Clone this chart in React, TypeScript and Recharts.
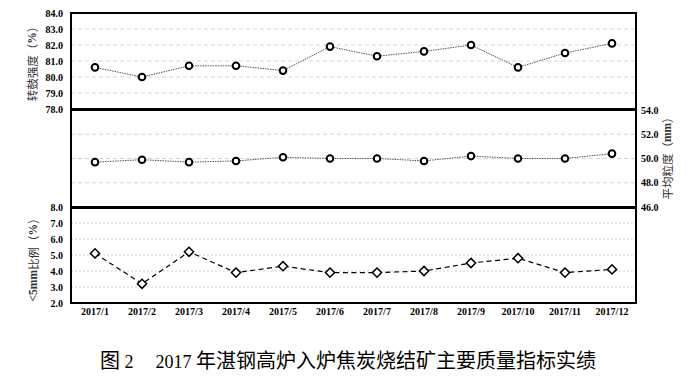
import { LineChart, Line, XAxis, YAxis, CartesianGrid } from 'recharts';

const months = ['2017/1', '2017/2', '2017/3', '2017/4', '2017/5', '2017/6', '2017/7', '2017/8', '2017/9', '2017/10', '2017/11', '2017/12'];
const drumStrength = [80.6, 80.0, 80.7, 80.7, 80.4, 81.9, 81.3, 81.6, 82.0, 80.6, 81.5, 82.1];
const avgSize = [49.7, 49.9, 49.7, 49.8, 50.1, 50.0, 50.0, 49.8, 50.2, 50.0, 50.0, 50.4];
const below5mm = [5.1, 3.2, 5.2, 3.9, 4.3, 3.9, 3.9, 4.0, 4.5, 4.8, 3.9, 4.1];

const drumTicks = [78, 79, 80, 81, 82, 83, 84];
const sizeTicks = [46, 48, 50, 52, 54];
const fineTicks = [2, 3, 4, 5, 6, 7, 8];

const data = months.map((m, i) => ({ month: m, drum: drumStrength[i], size: avgSize[i], fine: below5mm[i] }));

const W = 687;
const H = 379;
const tickStyle = { fontFamily: '"Liberation Serif", serif', fontWeight: 700, fontSize: 10, fill: '#000' };
const xPad = { left: 24, right: 24 };
const gridStroke = '#d4d4d4';
const cjk = '"Noto Sans CJK SC", sans-serif';
const latin = '"Liberation Serif", serif';

const CircleDot = (p: any) => (
  <circle cx={p.cx} cy={p.cy} r={3.3} fill="#fff" stroke="#000" strokeWidth={2} />
);

const DiamondDot = (p: any) => {
  const s = 4.6;
  return (
    <path
      d={`M${p.cx},${p.cy - s}L${p.cx + s},${p.cy}L${p.cx},${p.cy + s}L${p.cx - s},${p.cy}Z`}
      fill="#fff" stroke="#000" strokeWidth={1.5}
    />
  );
};

// rotated axis title, latin part in bold serif
function axisTitle(parts: { t: string; latin?: boolean }[], offsetX: number, dy = 0) {
  return (props: any) => {
    const vb = props.viewBox || {};
    const x = vb.x + offsetX;
    const y = vb.y + vb.height / 2 + dy;
    return (
      <text x={x} y={y} transform={`rotate(-90 ${x} ${y})`} textAnchor="middle" dominantBaseline="central"
        fontSize={11.5} fill="#333" fontFamily={cjk}>
        {parts.map((p, i) => (
          <tspan key={i} fontFamily={p.latin ? latin : undefined} fontWeight={p.latin ? 700 : 400}>{p.t}</tspan>
        ))}
      </text>
    );
  };
}

export default function App() {
  const fmt = (v: number) => v.toFixed(1);
  return (
    <div style={{ position: 'absolute', left: 0, top: 0, width: W, height: H, background: '#fff' }}>
      {/* 转鼓强度 */}
      <div style={{ position: 'absolute', left: 0, top: 0 }}>
        <LineChart width={W} height={H} data={data} margin={{ top: 13, right: 51, bottom: 270, left: 0 }}>
          <CartesianGrid vertical={false} stroke={gridStroke} strokeDasharray="4 3" />
          <XAxis dataKey="month" hide padding={xPad} />
          <YAxis width={71} domain={[78, 84]} ticks={drumTicks} interval={0} tickFormatter={fmt} axisLine={false} tickLine={false}
            tickSize={0} tickMargin={8} tick={tickStyle}
            label={{ content: axisTitle([{ t: '转鼓强度（' }, { t: '%', latin: true }, { t: '）' }], 32, 0) }} />
          <Line dataKey="drum" stroke="#555" strokeWidth={1} strokeDasharray="1.5 1" dot={<CircleDot />} isAnimationActive={false} />
        </LineChart>
      </div>
      {/* 平均粒度 */}
      <div style={{ position: 'absolute', left: 0, top: 0 }}>
        <LineChart width={W} height={H} data={data} margin={{ top: 110, right: 0, bottom: 172, left: 71 }}>
          <CartesianGrid vertical={false} stroke={gridStroke} strokeDasharray="4 3" />
          <XAxis dataKey="month" hide padding={xPad} />
          <YAxis orientation="right" width={51} domain={[46, 54]} ticks={sizeTicks} interval={0} tickFormatter={fmt} axisLine={false}
            tickLine={false} tickSize={0} tickMargin={5} tick={tickStyle}
            label={{ content: axisTitle([{ t: '平均粒度（' }, { t: 'mm', latin: true }, { t: '）' }], 31, -3) }} />
          <Line dataKey="size" stroke="#555" strokeWidth={1} strokeDasharray="1.5 1" dot={<CircleDot />} isAnimationActive={false} />
        </LineChart>
      </div>
      {/* <5mm比例 */}
      <div style={{ position: 'absolute', left: 0, top: 0 }}>
        <LineChart width={W} height={H} data={data} margin={{ top: 207, right: 51, bottom: 46, left: 0 }}>
          <CartesianGrid vertical={false} stroke={gridStroke} strokeDasharray="2 2" />
          <XAxis dataKey="month" height={30} padding={xPad} axisLine={false} tickLine={false} tickSize={0} tickMargin={5}
            tick={tickStyle} interval={0} />
          <YAxis width={71} domain={[2, 8]} ticks={fineTicks} interval={0} tickFormatter={fmt} axisLine={false} tickLine={false}
            tickSize={0} tickMargin={8} tick={tickStyle}
            label={{ content: axisTitle([{ t: '<5mm', latin: true }, { t: '比例（' }, { t: '%', latin: true }, { t: '）' }], 33, 2) }} />
          <Line dataKey="fine" stroke="#000" strokeWidth={1.2} strokeDasharray="5 3.5" dot={<DiamondDot />} isAnimationActive={false} />
        </LineChart>
      </div>
      {/* frame and panel separators */}
      <div style={{ position: 'absolute', left: 70, top: 12, width: 567, height: 292, border: '2px solid #000', boxSizing: 'border-box' }} />
      <div style={{ position: 'absolute', left: 70, top: 108, width: 567, height: 2.5, background: '#000' }} />
      <div style={{ position: 'absolute', left: 70, top: 206, width: 567, height: 2.5, background: '#000' }} />
      <div style={{ position: 'absolute', left: 100, top: 348, whiteSpace: 'pre', lineHeight: '24px', color: '#000' }}>
        <span style={{ fontFamily: cjk, fontSize: 20 }}>图</span>
        <span style={{ fontFamily: latin, fontSize: 18 }}>{' 2'}</span>
        <span style={{ fontFamily: latin, fontSize: 18, marginLeft: 22 }}>{'2017 '}</span>
        <span style={{ fontFamily: cjk, fontSize: 20 }}>年湛钢高炉入炉焦炭烧结矿主要质量指标实绩</span>
      </div>
    </div>
  );
}
